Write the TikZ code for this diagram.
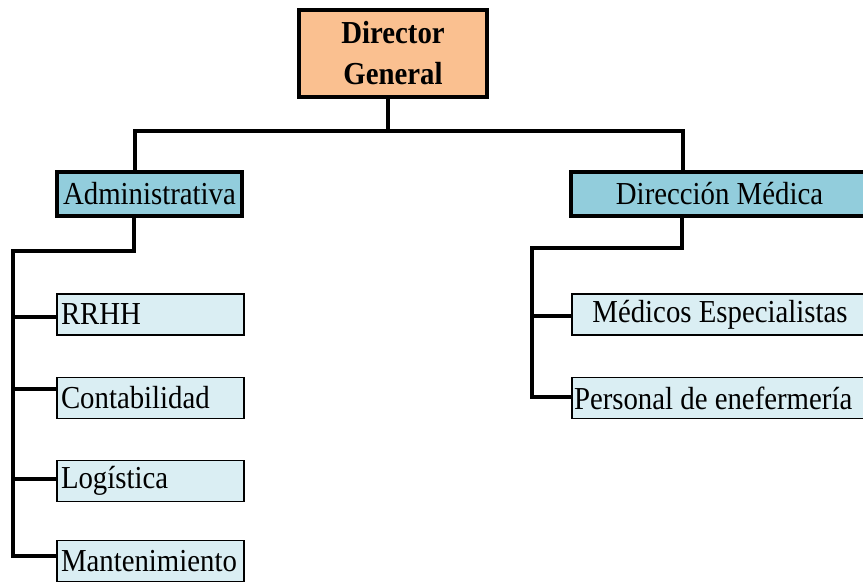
\documentclass[tikz,border=0pt]{standalone}
\usepackage{fontspec}
\setmainfont[FakeStretch=0.9]{Liberation Serif}
\definecolor{peach}{HTML}{FAC090}
\definecolor{aqua}{HTML}{92CDDC}
\definecolor{paleaqua}{HTML}{DAEEF3}
\begin{document}
\begin{tikzpicture}[x=1pt,y=-1pt,
  topbox/.style={draw=black,line width=4pt,fill=peach,rectangle,inner sep=0pt,
    minimum width=188pt,minimum height=87pt,align=center,
    font=\fontsize{32}{41}\selectfont\bfseries},
  midbox/.style={draw=black,line width=4pt,fill=aqua,rectangle,inner sep=0pt,
    minimum height=44pt,font=\fontsize{32}{36}\selectfont},
  leafbox/.style={draw=black,line width=1.6pt,fill=paleaqua,rectangle,inner ysep=0pt,
    inner xsep=4pt,minimum height=41pt,font=\fontsize{32}{36}\selectfont},
  conn/.style={draw=black,line width=4pt}]
\useasboundingbox (0,0) rectangle (863,583);
\clip (0,0) rectangle (863,583);
% nodes
\node[topbox] (dg) at (393,53.5) {Director\\General};
\node[midbox,minimum width=185pt] (adm) at (149.5,194) {Administrativa};
\node[midbox,minimum width=297pt] (dm) at (719.5,194) {Dirección Médica};
\node[leafbox,text width=179pt,align=flush left] (rrhh) at (150.5,314.5) {RRHH};
\node[leafbox,text width=179pt,align=flush left] (cont) at (150.5,398) {Contabilidad};
\node[leafbox,text width=179pt,align=flush left] (log) at (150.5,481) {Logística};
\node[leafbox,text width=179pt,align=flush left] (mant) at (150.5,561) {Mantenimiento};
\node[leafbox,minimum width=296pt] (med) at (720,314.5) {Médicos Especialistas};
\node[leafbox,text width=292pt,align=flush left,inner xsep=2pt] (pers) at (720,398) {Personal de enefermería};
% junction coordinates
\coordinate (j0) at (388,131);
\coordinate (hl) at (135,131);
\coordinate (hr) at (683,131);
\coordinate (la) at (134,251);
\coordinate (lb) at (13,251);
\coordinate (lc) at (13,556);
\coordinate (ra) at (682,248);
\coordinate (rb) at (532,248);
\coordinate (rc) at (532,397);
% connectors
\draw[conn] (dg.south -| j0) -- (j0);
\draw[conn] (adm.north -| hl) -- (hl) -- (hr) -- (dm.north -| hr);
\draw[conn] (adm.south -| la) -- (la) -- (lb) -- (lc) -- (mant.west |- lc);
\draw[conn] (13,317) -- (rrhh.west |- 13,317);
\draw[conn] (13,389) -- (cont.west |- 13,389);
\draw[conn] (13,479) -- (log.west |- 13,479);
\draw[conn] (dm.south -| ra) -- (ra) -- (rb) -- (rc) -- (pers.west |- rc);
\draw[conn] (532,316) -- (med.west |- 532,316);
\end{tikzpicture}
\end{document}
